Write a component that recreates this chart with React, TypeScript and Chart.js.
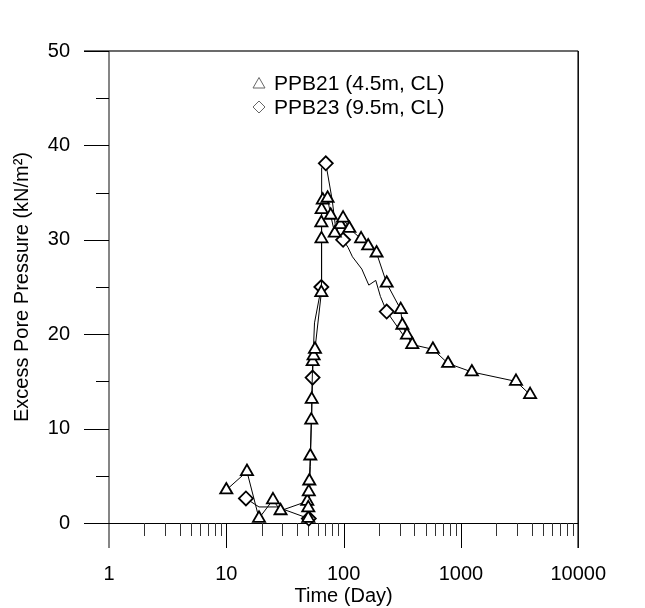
import React, { useEffect, useRef } from "react";
import { Chart, registerables } from "chart.js";

Chart.register(...registerables);

// ---- Data ----
const ppb21Days = [
  10, 15, 19, 25, 29, 49, 50, 50, 50.5, 51, 52, 53, 53.5, 54.5, 55.5, 57,
  64.6, 64.8, 64.6, 65, 66.5, 73, 77.6, 84, 94, 99, 112, 141, 162, 191, 233,
  307, 317, 347, 385, 577, 778, 1240, 2950, 3890,
];
const ppb21Pressure = [
  3.5, 5.45, 0.5, 2.45, 1.3, 2.3, 0.5, 1.6, 3.3, 4.45, 7.1, 10.9, 13.1, 17.1,
  17.7, 18.4, 24.4, 30.1, 31.8, 33.2, 34.2, 34.4, 32.6, 30.7, 31.6, 32.3, 31.2,
  30.1, 29.35, 28.6, 25.4, 22.6, 20.95, 19.9, 18.9, 18.4, 16.9, 16.0, 15.0, 13.6,
];

const ppb23Days = [
  14.7, 19, 27, 50.5, 52, 54.4, 55.5, 56.5, 64.6, 65, 70.5, 80, 87, 99, 109,
  119, 143, 164, 188, 206, 233, 316, 345,
];
const ppb23Pressure = [
  2.6, 1.7, 1.7, 0.47, 6, 15.4, 18.9, 21.2, 25.0, 37.6, 38.1, 34.2, 30.5, 30.0,
  29.2, 28.2, 26.9, 25.2, 25.7, 24.0, 22.4, 20.05, 19.5,
];
// 1 = a diamond marker is drawn at this point
const ppb23Marked = [
  1, 0, 0, 1, 0, 1, 0, 0, 1, 0, 1, 0, 0, 1, 0, 0, 0, 0, 0, 0, 1, 0, 0,
];

const xTickValues = [1, 10, 100, 1000, 10000];
const yTickValues = [0, 10, 20, 30, 40, 50];
const seriesLabels = ["PPB21 (4.5m, CL)", "PPB23 (9.5m, CL)"];
const xTitle = "Time (Day)";
const yTitle = "Excess Pore Pressure (kN/m\u00B2)";

const FONT = "'Liberation Sans', Arial, Helvetica, sans-serif";

const framePlugin = {
  id: "frame",
  beforeDatasetsDraw(chart: any) {
    const { ctx, chartArea: a, scales } = chart;
    const x = scales.x;
    const y = scales.y;
    const major = 25;
    const minor = 13;
    const seg = (x1: number, y1: number, x2: number, y2: number) => {
      ctx.beginPath();
      ctx.moveTo(x1, y1);
      ctx.lineTo(x2, y2);
      ctx.stroke();
    };
    ctx.save();
    // left axis (grey)
    ctx.strokeStyle = "#858585";
    ctx.lineWidth = 2;
    seg(a.left, a.top, a.left, a.bottom + major);
    // top border
    ctx.strokeStyle = "#3a3a3a";
    ctx.lineWidth = 1.5;
    seg(a.left - major, a.top, a.right, a.top);
    // right border
    ctx.strokeStyle = "#000";
    ctx.lineWidth = 1.5;
    seg(a.right, a.top, a.right, a.bottom + major);
    // bottom axis
    ctx.lineWidth = 1;
    seg(a.left - major, a.bottom + 0.5, a.right, a.bottom + 0.5);
    // y ticks
    const yMin = yTickValues[0];
    const yMax = yTickValues[yTickValues.length - 1];
    const yStep = (yTickValues[1] - yTickValues[0]) / 2;
    for (let v = yMin; v <= yMax + 1e-9; v += yStep) {
      const yy = Math.round(y.getPixelForValue(v)) + 0.5;
      const isMajor = yTickValues.includes(v);
      seg(a.left - (isMajor ? major : minor), yy, a.left, yy);
    }
    // x ticks
    for (let d = 0; d < xTickValues.length - 1; d++) {
      const base = xTickValues[d];
      for (let k = 1; k <= 9; k++) {
        const v = base * k;
        if (v <= xTickValues[0] || v >= xTickValues[xTickValues.length - 1]) continue;
        const xx = Math.round(x.getPixelForValue(v)) + 0.5;
        ctx.strokeStyle = k === 1 ? "#000" : "#333";
        seg(xx, a.bottom, xx, a.bottom + (k === 1 ? major : minor));
      }
    }
    ctx.restore();
  },
};

const legendPlugin = {
  id: "insideLegend",
  afterDraw(chart: any) {
    const { ctx, chartArea: a } = chart;
    const x0 = a.left + 150;
    const y0 = a.top + 32;
    const rowH = 24;
    ctx.save();
    ctx.strokeStyle = "#666";
    ctx.fillStyle = "#fff";
    ctx.lineWidth = 1;
    seriesLabels.forEach((label, i) => {
      const cy = y0 + i * rowH;
      ctx.beginPath();
      if (i === 0) {
        ctx.moveTo(x0, cy - 5.5);
        ctx.lineTo(x0 + 6, cy + 5);
        ctx.lineTo(x0 - 6, cy + 5);
      } else {
        ctx.moveTo(x0, cy - 6);
        ctx.lineTo(x0 + 6, cy);
        ctx.lineTo(x0, cy + 6);
        ctx.lineTo(x0 - 6, cy);
      }
      ctx.closePath();
      ctx.fill();
      ctx.stroke();
      ctx.fillStyle = "#000";
      ctx.font = `21px ${FONT}`;
      ctx.textBaseline = "middle";
      ctx.textAlign = "left";
      ctx.fillText(label, x0 + 15, cy + 1);
      ctx.fillStyle = "#fff";
    });
    ctx.restore();
  },
};

export default function App() {
  const canvasRef = useRef<HTMLCanvasElement | null>(null);

  useEffect(() => {
    const canvas = canvasRef.current;
    if (!canvas) return;
    Chart.defaults.font.family = FONT;
    Chart.defaults.color = "#000";

    const chart = new Chart(canvas, {
      type: "scatter",
      data: {
        datasets: [
          {
            label: seriesLabels[0],
            data: ppb21Days.map((d, i) => ({ x: d, y: ppb21Pressure[i] })),
            showLine: true,
            borderColor: "#000",
            borderWidth: 1,
            pointStyle: "triangle",
            pointRadius: 7,
            pointBorderWidth: 1.8,
            pointBackgroundColor: "#fff",
            pointBorderColor: "#000",
            clip: false,
          } as any,
          {
            label: seriesLabels[1],
            data: ppb23Days.map((d, i) => ({ x: d, y: ppb23Pressure[i] })),
            showLine: true,
            borderColor: "#000",
            borderWidth: 1,
            pointStyle: "rectRot",
            pointRadius: ppb23Marked.map((m) => (m ? 7 : 0)),
            pointBorderWidth: 1.8,
            pointBackgroundColor: "#fff",
            pointBorderColor: "#000",
            clip: false,
          } as any,
        ],
      },
      options: {
        animation: false,
        responsive: false,
        events: [],
        layout: { padding: { top: 21, right: 33, left: 0, bottom: 0 } },
        plugins: {
          legend: { display: false },
          tooltip: { enabled: false },
        },
        scales: {
          x: {
            type: "logarithmic",
            min: xTickValues[0],
            max: xTickValues[xTickValues.length - 1],
            afterBuildTicks: (scale: any) => {
              scale.ticks = xTickValues.map((v) => ({ value: v }));
            },
            afterFit: (scale: any) => {
              scale.height = 85;
            },
            ticks: {
              autoSkip: false,
              maxRotation: 0,
              padding: 39,
              font: { size: 20 },
              callback: (v: any) => String(v),
            },
            grid: { display: false, drawTicks: false },
            border: { display: false },
            title: {
              display: true,
              text: xTitle,
              font: { size: 20 },
              padding: { top: 0, bottom: 0 },
            },
          },
          y: {
            type: "linear",
            min: yTickValues[0],
            max: yTickValues[yTickValues.length - 1],
            afterBuildTicks: (scale: any) => {
              scale.ticks = yTickValues.map((v) => ({ value: v }));
            },
            afterFit: (scale: any) => {
              scale.width = 109;
            },
            ticks: {
              padding: 39,
              font: { size: 20 },
            },
            grid: { display: false, drawTicks: false },
            border: { display: false },
            title: {
              display: true,
              text: yTitle,
              font: { size: 20 },
              padding: { top: 10, bottom: 0 },
            },
          },
        },
      },
      plugins: [framePlugin, legendPlugin],
    } as any);

    return () => chart.destroy();
  }, []);

  return (
    <div style={{ position: "absolute", left: 0, top: 0, width: 645, height: 608, background: "#fff" }}>
      <canvas ref={canvasRef} width={645} height={608} style={{ display: "block" }} />
    </div>
  );
}
